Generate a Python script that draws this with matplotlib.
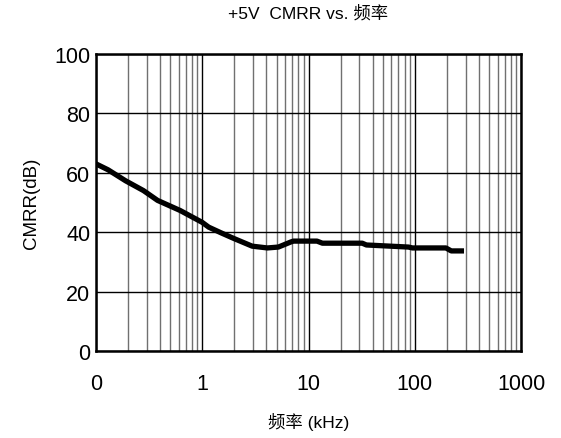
import matplotlib.pyplot as plt
from matplotlib.ticker import FixedLocator, LogLocator, NullFormatter

plt.rcParams['font.family'] = ['Liberation Sans', 'Noto Sans CJK SC', 'DejaVu Sans']

# frequency (kHz) and CMRR (dB)
freq = [0.1, 0.13, 0.19, 0.28, 0.38, 0.62, 1.0, 1.15, 1.5, 1.95, 2.95, 4.1, 5.2,
        6.8, 7.2, 12, 13.5, 32, 35, 87, 95, 196, 220, 290]
cmrr = [63.0, 61.0, 57.3, 54.0, 50.7, 47.3, 43.3, 41.7, 39.8, 38.0, 35.3, 34.7, 35.0,
        36.7, 37.0, 37.0, 36.3, 36.3, 35.7, 35.0, 34.7, 34.7, 33.7, 33.7]

xticks = [0.1, 1, 10, 100, 1000]
xticklabels = ['0', '1', '10', '100', '1000']
yticks = [0, 20, 40, 60, 80, 100]

fig = plt.figure(figsize=(5.61, 4.39), dpi=100)
ax = fig.add_axes([0.171, 0.198, 0.758, 0.677])

ax.plot(freq, cmrr, color='black', lw=3.8, solid_capstyle='butt', zorder=3)

ax.set_xscale('log')
ax.set_xlim(0.1, 1000)
ax.set_ylim(0, 100)
ax.xaxis.set_major_locator(FixedLocator(xticks))
ax.set_xticklabels(xticklabels)
ax.xaxis.set_minor_locator(LogLocator(base=10, subs=range(2, 10)))
ax.xaxis.set_minor_formatter(NullFormatter())
ax.set_yticks(yticks)

ax.grid(True, which='major', color='black', lw=1.0)
ax.grid(True, which='minor', axis='x', color='#707070', lw=1.0)
ax.tick_params(which='both', length=0, labelsize=15.5)
ax.tick_params(axis='x', pad=16)
ax.tick_params(axis='y', pad=4)
for s in ax.spines.values():
    s.set_linewidth(1.8)
    s.set_zorder(4)

ax.set_title('+5V  CMRR vs. 频率', fontsize=12.5, pad=26)
ax.set_xlabel('频率 (kHz)', fontsize=12.5, labelpad=13)
ax.set_ylabel('CMRR(dB)', fontsize=13.5, labelpad=10)

fig.savefig('out.png', dpi=100)
